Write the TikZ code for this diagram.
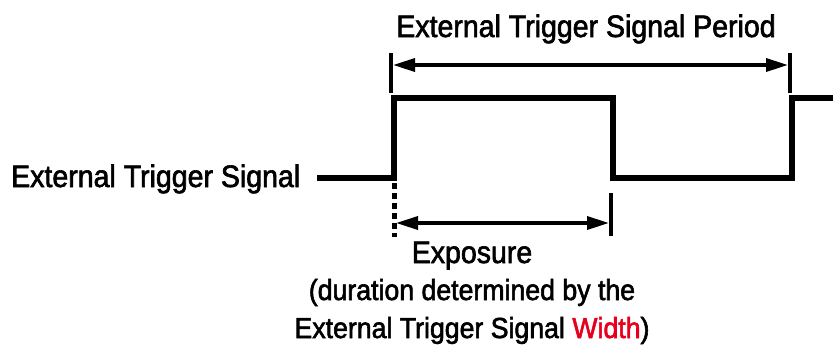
\documentclass[tikz,border=0pt]{standalone}
\usepackage{fontspec}
\setmainfont{Liberation Sans}[FakeBold=2,FakeStretch=0.92]
\usetikzlibrary{arrows.meta}
\definecolor{wred}{RGB}{230,0,30}
\begin{document}
\begin{tikzpicture}[x=1pt,y=-1pt,
  signal/.style={line width=6.5pt,line join=miter,line cap=butt},
  marker/.style={line width=3.5pt},
  dim/.style={line width=3.5pt,{Triangle[length=22pt,width=13pt]}-{Triangle[length=22pt,width=13pt]}},
  bigtxt/.style={inner sep=0pt,font=\fontsize{31}{34}\selectfont},
  smalltxt/.style={inner sep=0pt,font=\fontsize{29}{32}\selectfont}]
\useasboundingbox (0,0) rectangle (833,346);
% signal
\coordinate (s0) at (317,178);
\coordinate (s1) at (394,178);
\coordinate (s2) at (394,98);
\coordinate (s3) at (613,98);
\coordinate (s4) at (613,178);
\coordinate (s5) at (792,178);
\coordinate (s6) at (792,98);
\coordinate (s7) at (836,98);
\draw[signal] (s0) -- (s1) -- (s2) -- (s3) -- (s4) -- (s5) -- (s6) -- (s7);
% period markers
\coordinate (pa) at (391,53);
\coordinate (pb) at (391,93);
\coordinate (pc) at (790,53);
\coordinate (pd) at (790,93);
\draw[marker] (pa) -- (pb);
\draw[marker] (pc) -- (pd);
\coordinate (pl) at (393,65);
\coordinate (pr) at (788,65);
\draw[dim] (pl) -- (pr);
% exposure markers
\coordinate (ea) at (394,183);
\coordinate (eb) at (394,237);
\draw[line width=5pt,dash pattern=on 6pt off 4pt] (ea) -- (eb);
\coordinate (ec) at (611,193);
\coordinate (ed) at (611,236);
\draw[marker] (ec) -- (ed);
\coordinate (el) at (396,223);
\coordinate (er) at (609,223);
\draw[dim] (el) -- (er);
% texts
\node[bigtxt,anchor=base west] (lbl) at (11,187) {External Trigger Signal};
\node[bigtxt,anchor=base] (per) at (586,37) {External Trigger Signal Period};
\node[bigtxt,anchor=base] (exp) at (472,263) {Exposure};
\node[smalltxt,anchor=base] (dur) at (472,300) {(duration determined by the};
\node[smalltxt,anchor=base] (wid) at (472,338) {External Trigger Signal \textcolor{wred}{Width})};
\end{tikzpicture}
\end{document}
